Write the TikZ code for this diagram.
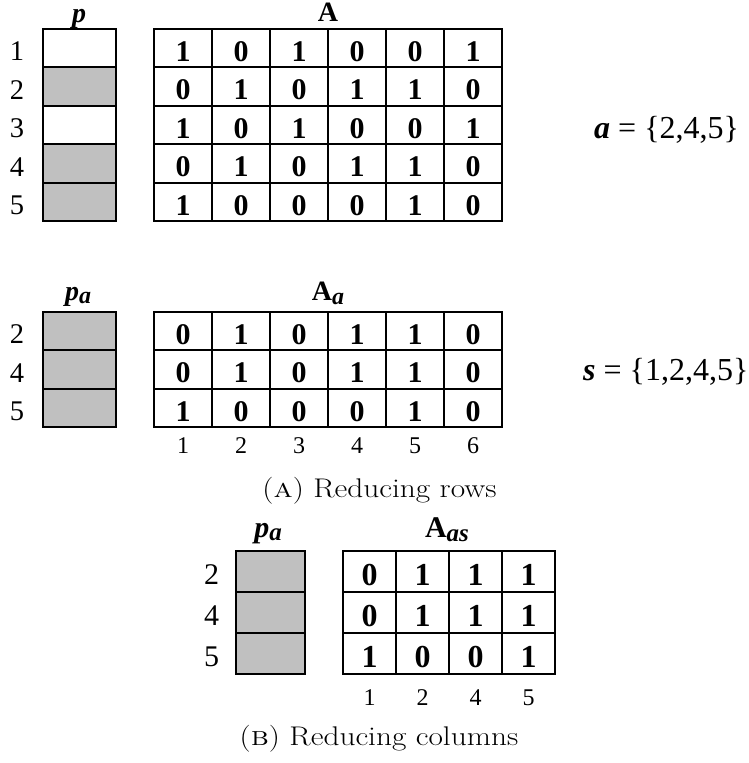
\documentclass[tikz,border=0pt]{standalone}
\usepackage{fontspec}
\usepackage{graphicx}
\newfontfamily\tnr{Liberation Serif}
\definecolor{cellgray}{RGB}{192,192,192}

\begin{document}
\begin{tikzpicture}[x=1pt,y=-1pt,
  gridcell/.style={draw=black, line width=2pt, inner sep=0pt, outer sep=0pt},
  bit/.style={gridcell, font=\tnr\bfseries\fontsize{30}{33}\selectfont,
    text height=27pt, text depth=0pt},
  bigbit/.style={gridcell, font=\tnr\bfseries\fontsize{32}{35}\selectfont,
    text height=28.5pt, text depth=0pt},
  rowidx/.style={inner sep=0pt, font=\tnr\fontsize{28.5}{32}\selectfont,
    text height=25.5pt, text depth=0pt},
  bigrowidx/.style={inner sep=0pt, font=\tnr\fontsize{30}{33}\selectfont,
    text height=26.5pt, text depth=0pt},
  colidx/.style={inner sep=0pt, anchor=base, font=\tnr\fontsize{24}{28}\selectfont},
  title/.style={inner sep=0pt, anchor=base, font=\tnr\bfseries\fontsize{28}{32}\selectfont},
  bigtitle/.style={inner sep=0pt, anchor=base, font=\tnr\bfseries\fontsize{30}{34}\selectfont},
  setlabel/.style={inner sep=0pt, anchor=base west, font=\tnr\fontsize{32}{36}\selectfont},
  subcap/.style={inner sep=0pt, anchor=base, font=\fontsize{27}{32}\selectfont}
]
\useasboundingbox (0,0) rectangle (749,763);

% ---------- (a) top: vector p and matrix A ----------
\node[title] (ptitle) at (79,22) {\textit{p}};
\node[title] (Atitle) at (328,21.5) {A};
\foreach \f [count=\r] in {white,cellgray,white,cellgray,cellgray} {
  \node[gridcell, fill=\f, minimum width=73pt, minimum height=38.5pt]
    (p-\r) at (79.5,{28.5+38.5*(\r-0.5)}) {};
  \node[rowidx] (pidx-\r) at (17,{28.5+38.5*(\r-0.5)}) {\r};
}
\foreach \row [count=\r] in {{1,0,1,0,0,1},{0,1,0,1,1,0},{1,0,1,0,0,1},{0,1,0,1,1,0},{1,0,0,0,1,0}} {
  \foreach \v [count=\c] in \row {
    \node[bit, minimum width=58pt, minimum height=38.5pt]
      (A-\r-\c) at ({154+58*(\c-0.5)},{28.5+38.5*(\r-0.5)}) {\v};
  }
}
\node[setlabel] (aset) at (594,138) {\textbf{\textit{a}} = \{2,4,5\}};

% ---------- (a) middle: vector p_a and matrix A_a ----------
\node[title] (patitle) at (78,300) {\textit{p}\raisebox{-3pt}{\fontsize{24}{28}\selectfont\textit{a}}};
\node[title] (Aatitle) at (328,300) {A\raisebox{-4pt}{\fontsize{24}{28}\selectfont\textit{a}}};
\foreach \lab [count=\r] in {2,4,5} {
  \node[gridcell, fill=cellgray, minimum width=73pt, minimum height=38.5pt]
    (pa-\r) at (79.5,{311.5+38.5*(\r-0.5)}) {};
  \node[rowidx] (paidx-\r) at (17,{311.5+38.5*(\r-0.5)}) {\lab};
}
\foreach \row [count=\r] in {{0,1,0,1,1,0},{0,1,0,1,1,0},{1,0,0,0,1,0}} {
  \foreach \v [count=\c] in \row {
    \node[bit, minimum width=58pt, minimum height=38.5pt]
      (Aa-\r-\c) at ({154+58*(\c-0.5)},{311.5+38.5*(\r-0.5)}) {\v};
  }
}
\foreach \c in {1,...,6} {
  \node[colidx] (Aacol-\c) at ({154+58*(\c-0.5)},453.3) {\c};
}
\node[setlabel] (sset) at (583,380) {\textbf{\textit{s}} = \{1,2,4,5\}};
\node[subcap] (capa) at (379.5,497) {\scalebox{1.16}[1]{(\textsc{a}) Reducing rows}};

% ---------- (b): vector p_a and matrix A_as ----------
\node[bigtitle] (pbtitle) at (268,537) {\textit{p}\raisebox{-3pt}{\fontsize{25}{29}\selectfont\textit{a}}};
\node[bigtitle] (Astitle) at (447,537) {A\raisebox{-4pt}{\fontsize{25}{29}\selectfont\textit{as}}};
\foreach \lab [count=\r] in {2,4,5} {
  \node[gridcell, fill=cellgray, minimum width=69pt, minimum height=41pt]
    (pb-\r) at (270.5,{551+41*(\r-0.5)}) {};
  \node[bigrowidx] (pbidx-\r) at (211.7,{551+41*(\r-0.5)}) {\lab};
}
\foreach \row [count=\r] in {{0,1,1,1},{0,1,1,1},{1,0,0,1}} {
  \foreach \v [count=\c] in \row {
    \node[bigbit, minimum width=53pt, minimum height=41pt]
      (As-\r-\c) at ({343+53*(\c-0.5)},{551+41*(\r-0.5)}) {\v};
  }
}
\foreach \lab [count=\c] in {1,2,4,5} {
  \node[colidx] (Ascol-\c) at ({343+53*(\c-0.5)},705) {\lab};
}
\node[subcap] (capb) at (379,745) {\scalebox{1.16}[1]{(\textsc{b}) Reducing columns}};
\end{tikzpicture}
\end{document}
